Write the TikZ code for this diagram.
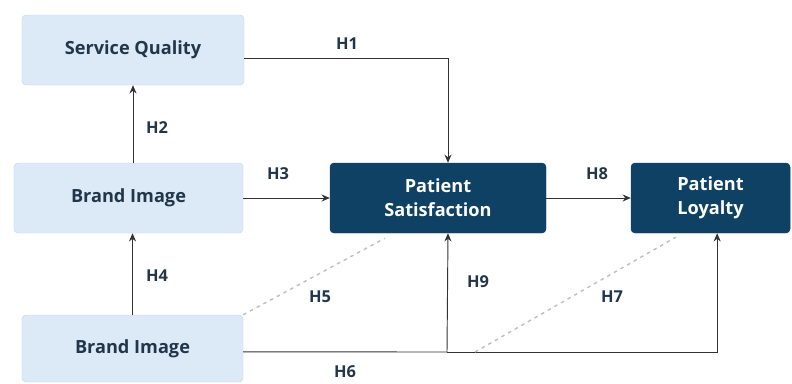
\documentclass[tikz,border=0pt]{standalone}
\usepackage{fontspec}
\setmainfont{Open Sans}
\usetikzlibrary{arrows.meta}

\definecolor{lightbox}{HTML}{DCEAF8}
\definecolor{lightedge}{HTML}{C3D7EE}
\definecolor{darkbox}{HTML}{0E4164}
\definecolor{boxtext}{HTML}{22364A}
\definecolor{linegray}{HTML}{333333}

\tikzset{
	construct/.style={draw=lightedge, fill=lightbox, rounded corners=0.12cm, text=boxtext,
		font=\bfseries\fontsize{15.5}{20}\selectfont, inner sep=0pt},
	outcome/.style={draw=darkbox, fill=darkbox, rounded corners=0.12cm, text=white, align=center,
		font=\bfseries\fontsize{15.5}{20.5}\selectfont, inner sep=0pt, minimum height=2.1cm},
	link/.style={draw=linegray, thick, -{Stealth[length=7pt, width=6pt]}},
	weak/.style={draw=gray!50, very thick, dash pattern=on 3pt off 3.5pt},
	hyp/.style={font=\bfseries\fontsize{14}{16}\selectfont, text=boxtext}
}

\begin{document}
\begin{tikzpicture}[x=0.03cm, y=-0.03cm]
		\useasboundingbox (0, 0) rectangle (792, 383);
		
		% constructs
		\node[construct, minimum width=6.66cm, minimum height=2.1cm] (sq) at (133, 50) {Service Quality};
		\node[construct, minimum width=6.87cm, minimum height=2.1cm] (bi1) at (128.5, 198) {Brand Image};
		\node[construct, minimum width=6.63cm, minimum height=2.01cm] (bi2) at (132.5, 348.5) {Brand Image};
		\node[outcome, minimum width=6.48cm] (ps) at (438, 198) {Patient\\Satisfaction};
		\node[outcome, minimum width=4.77cm] (pl) at (710.5, 198) {Patient\\Loyalty};
		
		% direct paths
		\draw[link] ([yshift=-0.24cm]sq.east) -| ([xshift=0.3cm]ps.north);
		\draw[link] (bi1.north -| sq.south) -- (sq.south);
		\draw[link] (bi1) -- (ps);
		\draw[link] (ps) -- (pl);
		\draw[link] (bi2.north) -- (bi2.north |- bi1.south);
		
		\coordinate (j9) at (447, 352);
		\coordinate (j7) at (475, 352);
		\draw[linegray, thick] ([yshift=-0.1cm]bi2.east) -- (j9);
		\draw[link] (j9) -| ([xshift=0.2cm]pl.south);
		\draw[link] (j9) -- ([xshift=0.3cm]ps.south);
		
		% mediated paths
		\draw[weak] (bi2.north east) -- ([xshift=1.65cm, yshift=-0.15cm]ps.south west);
		\draw[weak] (j7) -- ([xshift=1.35cm, yshift=-0.12cm]pl.south west);
		
		% hypothesis labels
		\node[hyp] (h1) at (347, 44) {H1};
		\node[hyp] (h2) at (157, 128) {H2};
		\node[hyp] (h3) at (278, 174) {H3};
		\node[hyp] (h4) at (157, 276) {H4};
		\node[hyp] (h5) at (320, 297) {H5};
		\node[hyp] (h6) at (345, 372) {H6};
		\node[hyp] (h7) at (612, 297) {H7};
		\node[hyp] (h8) at (597, 174) {H8};
		\node[hyp] (h9) at (478, 282) {H9};
\end{tikzpicture}
\end{document}
